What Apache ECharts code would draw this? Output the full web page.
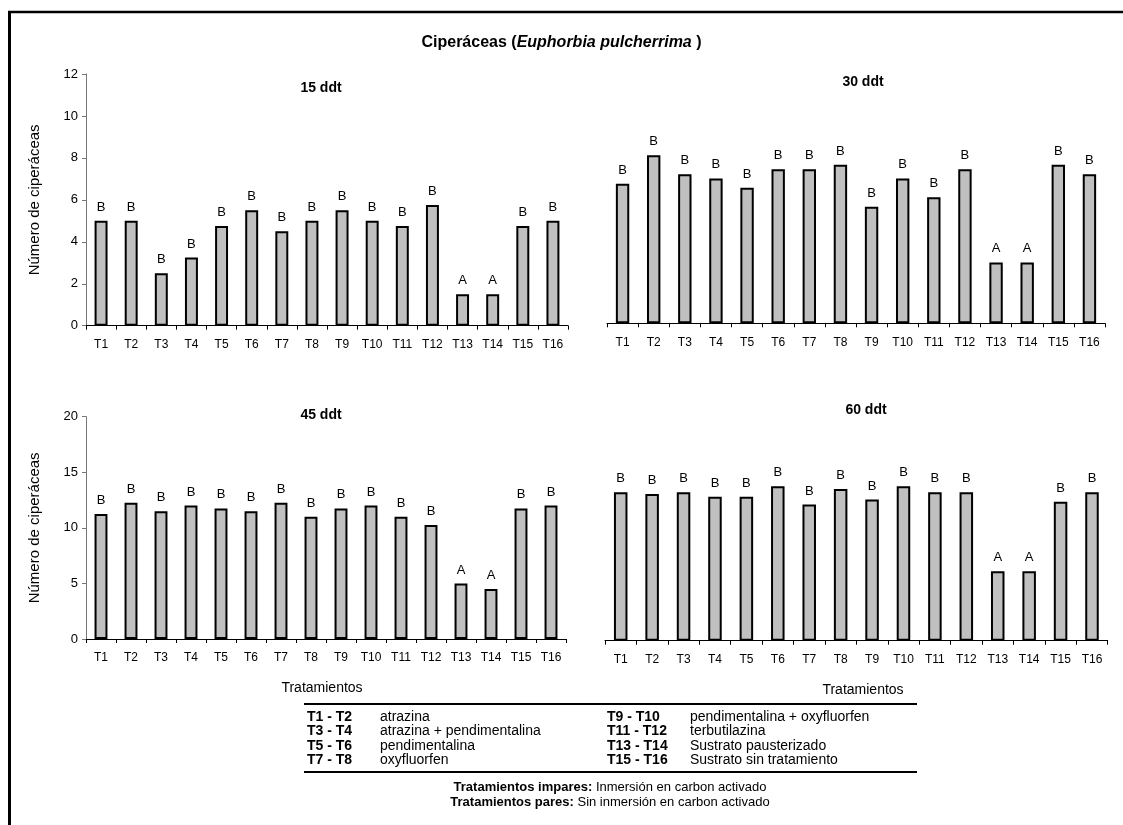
<!DOCTYPE html>
<html>
<head>
<meta charset="utf-8">
<script src="https://cdn.jsdelivr.net/npm/echarts@6/dist/echarts.min.js"></script>
<style>
html,body{margin:0;padding:0;background:#fff;}
#chart{width:1123px;height:825px;}
</style>
</head>
<body>
<div id="chart"></div>
<script>
const categories = ['T1','T2','T3','T4','T5','T6','T7','T8','T9','T10','T11','T12','T13','T14','T15','T16'];
const letters = ['B','B','B','B','B','B','B','B','B','B','B','B','A','A','B','B'];
const v15 = [5, 5, 2.5, 3.25, 4.75, 5.5, 4.5, 5, 5.5, 5, 4.75, 5.75, 1.5, 1.5, 4.75, 5];
const v30 = [6.65, 8, 7.1, 6.9, 6.45, 7.33, 7.33, 7.55, 5.55, 6.9, 6, 7.33, 2.9, 2.9, 7.55, 7.1];
const v45 = [11.25, 12.25, 11.5, 12, 11.75, 11.5, 12.25, 11, 11.75, 12, 11, 10.25, 5, 4.5, 11.75, 12];
const v60 = [13.35, 13.2, 13.35, 12.95, 12.95, 13.9, 12.25, 13.65, 12.7, 13.9, 13.35, 13.35, 6.25, 6.25, 12.5, 13.35];
const panelTitles = ['15 ddt', '30 ddt', '45 ddt', '60 ddt'];
const yMaxTop = 12, yIntTop = 2;
const yMaxBottom = 20, yIntBottom = 5;
const yTitle = 'Número de ciperáceas';
const xTitle = 'Tratamientos';
const legendRows = [
  ['T1 - T2', 'atrazina', 'T9 - T10', 'pendimentalina + oxyfluorfen'],
  ['T3 - T4', 'atrazina + pendimentalina', 'T11 - T12', 'terbutilazina'],
  ['T5 - T6', 'pendimentalina', 'T13 - T14', 'Sustrato pausterizado'],
  ['T7 - T8', 'oxyfluorfen', 'T15 - T16', 'Sustrato sin tratamiento']
];
const noteLines = [
  ['Tratamientos impares:', ' Inmersión en carbon activado'],
  ['Tratamientos pares:', ' Sin inmersión en carbon activado']
];

const FONT = '"Liberation Sans", Arial, sans-serif';
const chart = echarts.init(document.getElementById('chart'), null, {renderer: 'canvas'});

const grids = [
  {left: 86, top: 74, width: 482, height: 251.7},
  {left: 607, top: 71.3, width: 498, height: 252},
  {left: 86, top: 416.7, width: 480, height: 222.3},
  {left: 605, top: 418.4, width: 502.7, height: 222.3}
];
const seriesData = [v15, v30, v45, v60];
const showY = [true, false, true, false];
const yMax = [yMaxTop, yMaxTop, yMaxBottom, yMaxBottom];
const yInt = [yIntTop, yIntTop, yIntBottom, yIntBottom];

const xAxes = grids.map((g, i) => ({
  type: 'category', gridIndex: i, data: categories,
  axisLine: {lineStyle: {color: '#000', width: 1}},
  axisTick: {show: true, length: 4, lineStyle: {color: '#000'}},
  axisLabel: {color: '#000', fontFamily: FONT, fontSize: 12, margin: 13, interval: 0}
}));
const yAxes = grids.map((g, i) => ({
  type: 'value', gridIndex: i, min: 0, max: yMax[i], interval: yInt[i],
  show: showY[i],
  name: showY[i] ? yTitle : '',
  nameLocation: 'middle', nameGap: 44, nameRotate: 90,
  nameTextStyle: {color: '#000', fontFamily: FONT, fontSize: 15},
  axisLine: {show: true, lineStyle: {color: '#777', width: 1}},
  axisTick: {show: true, length: 4, lineStyle: {color: '#777'}},
  axisLabel: {color: '#000', fontFamily: FONT, fontSize: 13, margin: 8},
  splitLine: {show: false}
}));
const series = seriesData.map((d, i) => ({
  type: 'bar', xAxisIndex: i, yAxisIndex: i, data: d,
  barWidth: '43%',
  itemStyle: {color: '#c0c0c0', borderColor: '#000', borderWidth: 2},
  label: {
    show: true, position: 'top', distance: 7,
    formatter: p => letters[p.dataIndex],
    color: '#000', fontFamily: FONT, fontSize: 13
  },
  silent: true, animation: false
}));

const graphics = [];
// frame
graphics.push({type: 'line', shape: {x1: 8, y1: 12, x2: 1123, y2: 12}, style: {stroke: '#000', lineWidth: 2.5}});
graphics.push({type: 'line', shape: {x1: 9.5, y1: 11, x2: 9.5, y2: 825}, style: {stroke: '#000', lineWidth: 3}});
// panel titles
const ptPos = [[321, 88], [863, 82], [321, 415], [866, 410]];
panelTitles.forEach((t, i) => graphics.push({
  type: 'text', x: ptPos[i][0], y: ptPos[i][1],
  style: {text: t, fill: '#000', font: 'bold 14px ' + FONT, align: 'center', verticalAlign: 'middle'}
}));
// x titles
graphics.push({type: 'text', x: 322, y: 688, style: {text: xTitle, fill: '#000', font: '14px ' + FONT, align: 'center', verticalAlign: 'middle'}});
graphics.push({type: 'text', x: 863, y: 690, style: {text: xTitle, fill: '#000', font: '14px ' + FONT, align: 'center', verticalAlign: 'middle'}});
// legend table
const tblL = 304, tblR = 917;
const topLine = 704, rowY0 = 717, rowStep = 14.5, botLine = 772;
graphics.push({type: 'line', shape: {x1: tblL, y1: topLine, x2: tblR, y2: topLine}, style: {stroke: '#000', lineWidth: 2}});
graphics.push({type: 'line', shape: {x1: tblL, y1: botLine, x2: tblR, y2: botLine}, style: {stroke: '#000', lineWidth: 2}});
const colX = [307, 380, 607, 690];
legendRows.forEach((r, ri) => {
  r.forEach((txt, ci) => graphics.push({
    type: 'text', x: colX[ci], y: rowY0 + ri * rowStep,
    style: {text: txt, fill: '#000', font: (ci % 2 === 0 ? 'bold ' : '') + '14px ' + FONT, align: 'left', verticalAlign: 'middle'}
  }));
});
noteLines.forEach((n, i) => graphics.push({
  type: 'text', x: 610, y: 787 + i * 15.5,
  style: {
    text: '{b|' + n[0] + '}{n|' + n[1] + '}', align: 'center', verticalAlign: 'middle',
    rich: {b: {font: 'bold 13px ' + FONT, fill: '#000'}, n: {font: '13px ' + FONT, fill: '#000'}}
  }
}));

chart.setOption({
  animation: false,
  backgroundColor: '#fff',
  title: {
    text: '{b|Ciperáceas (}{i|Euphorbia pulcherrima}{b| )}',
    left: 'center', top: 30,
    textStyle: {
      rich: {
        b: {fontFamily: FONT, fontWeight: 'bold', fontSize: 16, color: '#000'},
        i: {fontFamily: FONT, fontWeight: 'bold', fontStyle: 'italic', fontSize: 16, color: '#000'}
      }
    }
  },
  grid: grids.map(g => Object.assign({containLabel: false}, g)),
  xAxis: xAxes,
  yAxis: yAxes,
  series: series,
  graphic: graphics
});
</script>
</body>
</html>
